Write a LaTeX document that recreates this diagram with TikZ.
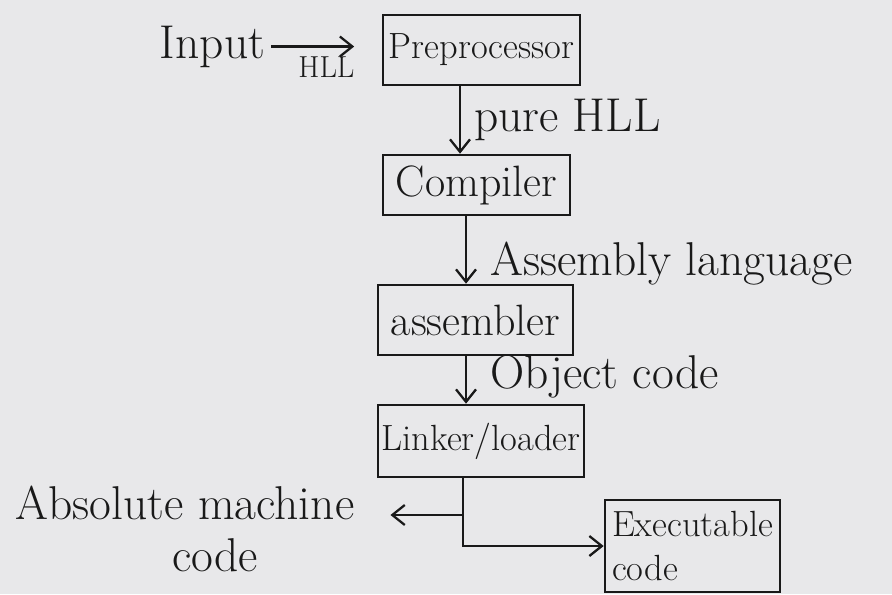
\documentclass[tikz,border=0pt]{standalone}
\usepackage{xcolor}
\usetikzlibrary{arrows.meta,positioning,calc}
\definecolor{paper}{RGB}{232,232,234}
\definecolor{ink}{RGB}{25,25,25}

\begin{document}
\begin{tikzpicture}[
        every node/.style={font=\huge, text=ink},
        lbl/.style={font=\fontsize{27}{30}\selectfont},
        big/.style={font=\fontsize{25}{28}\selectfont},
        box/.style={rectangle, draw=ink, line width=1.5pt, inner sep=2pt},
        arrow/.style={-{Straight Barb[length=2.5mm, width=4mm]}, line width=1.3pt, draw=ink}
    ]
        \fill[paper] (0,0) rectangle (17.84,11.88);
        \useasboundingbox (0,0) rectangle (17.84,11.88);

        % Translator chain
        \node[box, minimum width=3.94cm, minimum height=1.4cm] (pre) at (9.63,10.88) {Preprocessor};
        \node[box, big, minimum width=3.74cm, minimum height=1.2cm] (comp) at (9.53,8.18) {Compiler};
        \node[box, big, minimum width=3.9cm, minimum height=1.4cm] (asm) at (9.51,5.48) {assembler};
        \node[box, minimum width=3.64cm, minimum height=1.44cm] (link) at (9.62,3.06) {Linker/loader};
        \node[box, minimum width=3.5cm, minimum height=1.84cm, align=left] (exec) at (13.85,0.96) {Executable\\code};

        \node[lbl] (inp) at (4.25,10.95) {Input};
        \node[lbl, align=center] (abs) at (3.7,1.3) {Absolute machine\\\hspace*{1.2cm}code};

        \draw[arrow, shorten >=0.55cm] (inp.east) -- node[below=2pt, font=\LARGE] {HLL} (pre.west |- inp.east);
        \draw[arrow] (pre.south -| 9.2,0) -- node[right=4pt, lbl] {pure HLL} (comp.north -| 9.2,0);
        \draw[arrow] (comp.south -| 9.32,0) -- node[right=10pt, yshift=-8pt, lbl] {Assembly language} (asm.north -| 9.32,0);
        \draw[arrow] (asm.south -| 9.32,0) -- node[right=10pt, yshift=2pt, lbl] {Object code} (link.north -| 9.32,0);

        % Output split
        \coordinate (tap) at (9.26,1.58);
        \draw[line width=1.3pt, draw=ink] (link.south -| tap) -- (tap);
        \draw[arrow] (tap) |- (exec.west);
        \draw[arrow, shorten >=0.6cm] (tap) -- (abs.east |- tap);
    \end{tikzpicture}
\end{document}
